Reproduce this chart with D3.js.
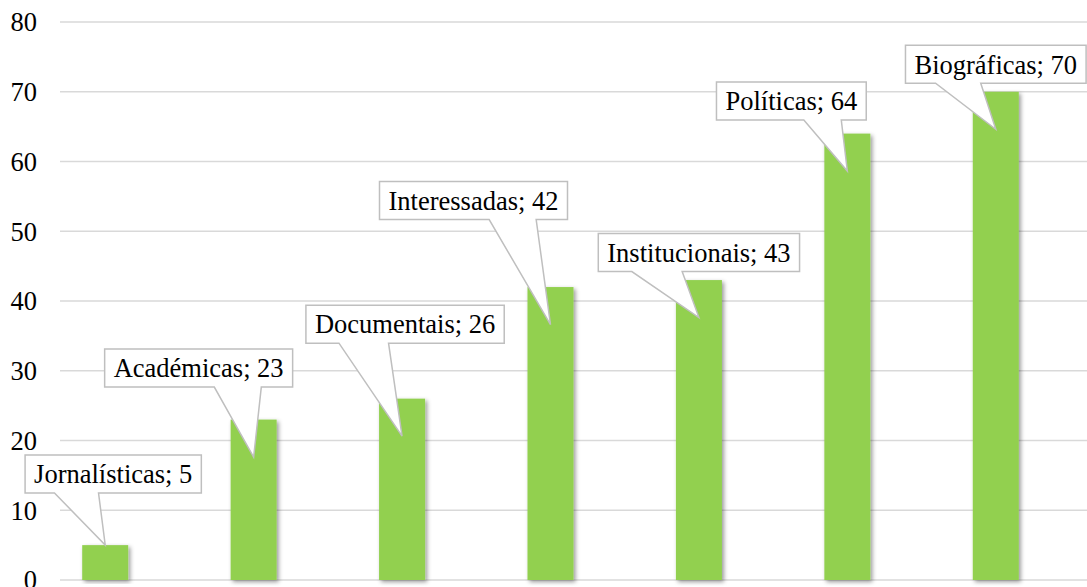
<!DOCTYPE html>
<html>
<head>
<meta charset="utf-8">
<script src="https://cdn.jsdelivr.net/npm/d3@7"></script>
<style>
  html, body { margin: 0; padding: 0; background: #fff; }
  svg { display: block; font-family: "Liberation Serif", "Times New Roman", serif; }
</style>
</head>
<body>
<div id="chart"></div>
<script>
const categories = ["Jornalísticas", "Académicas", "Documentais", "Interessadas", "Institucionais", "Políticas", "Biográficas"];
const values = [5, 23, 26, 42, 43, 64, 70];
const yTicks = [0, 10, 20, 30, 40, 50, 60, 70, 80];

// where each callout box sits relative to its pointer tip (px): centre dx, top dy
const labelOffsets = [[8, -90], [-55, -108], [3, -131], [-77, -143], [0, -84], [-56, -89], [0, -84]];

const width = 1087;
const height = 587;

const x = d3.scaleBand()
    .domain(categories)
    .range([31, 1070])
    .paddingInner(0.69)
    .paddingOuter(0.345);

const y = d3.scaleLinear().domain([0, 80]).range([580, 22]);

const svg = d3.select("#chart").append("svg")
    .attr("width", width)
    .attr("height", height);

const defs = svg.append("defs");
defs.append("filter")
    .attr("id", "shadow")
    .attr("x", "-20%").attr("y", "-5%").attr("width", "150%").attr("height", "115%")
  .append("feDropShadow")
    .attr("dx", 2).attr("dy", 2)
    .attr("stdDeviation", 2)
    .attr("flood-color", "#000")
    .attr("flood-opacity", 0.4);

// gridlines
svg.append("g").selectAll("line")
    .data(yTicks)
    .enter().append("line")
    .attr("x1", 60)
    .attr("x2", width)
    .attr("y1", d => y(d))
    .attr("y2", d => y(d))
    .attr("stroke", "#d9d9d9")
    .attr("stroke-width", 1.5);

// y tick labels
svg.append("g").selectAll("text")
    .data(yTicks)
    .enter().append("text")
    .attr("x", 37)
    .attr("y", d => y(d))
    .attr("dy", "0.35em")
    .attr("text-anchor", "end")
    .attr("font-size", 26.5)
    .attr("fill", "#000")
    .text(d => d);

// bars
svg.append("g").selectAll("rect")
    .data(values)
    .enter().append("rect")
    .attr("x", (d, i) => x(categories[i]))
    .attr("y", d => y(d))
    .attr("width", x.bandwidth())
    .attr("height", d => y(0) - y(d))
    .attr("fill", "#92d050")
    .attr("filter", "url(#shadow)");

// callouts
const callouts = svg.append("g").selectAll("g")
    .data(values)
    .enter().append("g");

callouts.each(function(d, i) {
    const g = d3.select(this);
    const tx = x(categories[i]) + x.bandwidth() / 2;
    const ty = Math.min(y(d) + 37.5, y(0) - 35);
    const path = g.append("path");
    const label = g.append("text")
        .attr("font-size", 26.5)
        .attr("fill", "#000")
        .attr("text-anchor", "middle")
        .text(`${categories[i]}; ${d}`);

    const tw = label.node().getComputedTextLength();
    const w = tw + 18;
    const h = 38;
    const cx = tx + labelOffsets[i][0];
    const x0 = cx - w / 2;
    const y0 = ty + labelOffsets[i][1];

    label.attr("x", cx).attr("y", y0 + h / 2).attr("dy", "0.35em");

    // wedge base on bottom edge, side depends on where the tip is
    const b1 = tx > cx ? x0 + w * 7 / 12 : x0 + w / 6;
    const b2 = tx > cx ? x0 + w * 5 / 6 : x0 + w * 5 / 12;

    path.attr("d", `M${x0},${y0}H${x0 + w}V${y0 + h}H${b2}L${tx},${ty}L${b1},${y0 + h}H${x0}Z`)
        .attr("fill", "#fff")
        .attr("stroke", "#bfbfbf")
        .attr("stroke-width", 1.5);
});
</script>
</body>
</html>
